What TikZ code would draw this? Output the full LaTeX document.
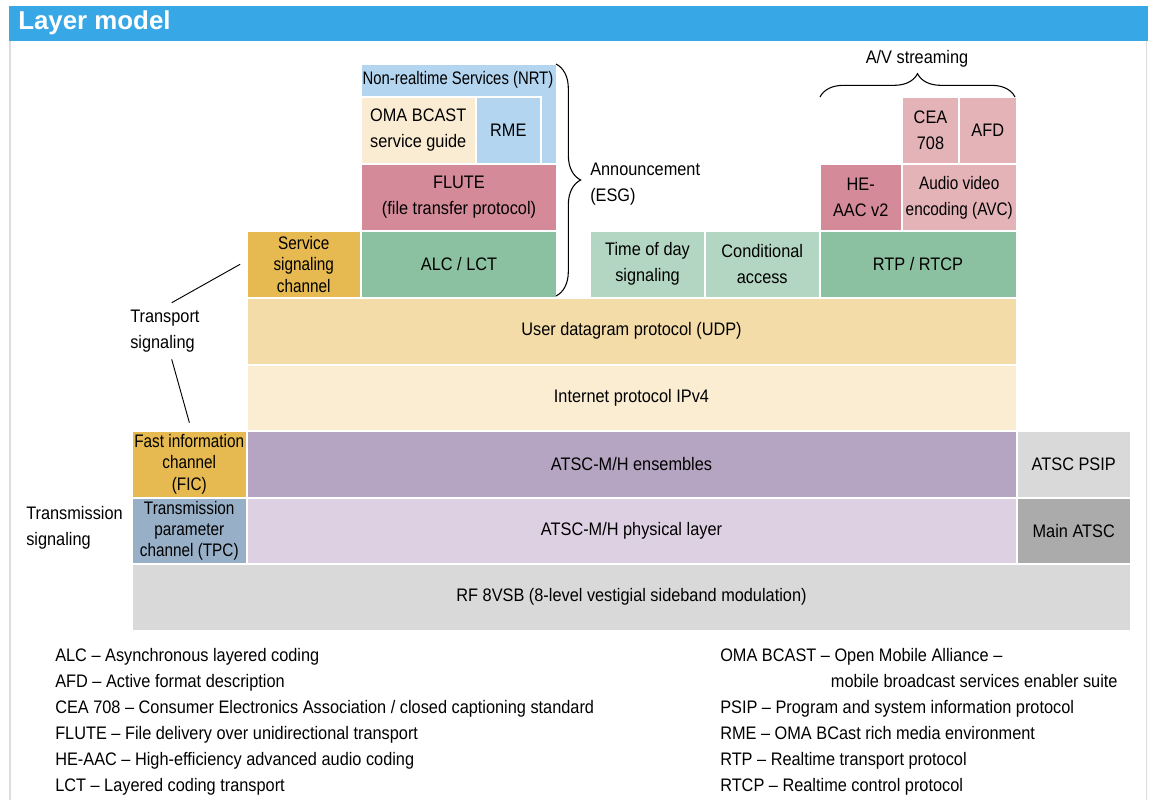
\documentclass[tikz,border=0pt]{standalone}
\usepackage{fontspec}
\setmainfont[FakeStretch=0.9]{Liberation Sans}
\newfontfamily\titlefont{Liberation Sans}
\newfontfamily\narrowfont[FakeStretch=0.845]{Liberation Sans}
\newfontfamily\narrowerfont[FakeStretch=0.82]{Liberation Sans}
\usetikzlibrary{decorations.pathreplacing}
\definecolor{titleblue}{RGB}{55,167,230}
\definecolor{nrtblue}{RGB}{179,213,240}
\definecolor{cream}{RGB}{250,236,210}
\definecolor{flutepink}{RGB}{212,138,152}
\definecolor{midgreen}{RGB}{139,193,160}
\definecolor{gold}{RGB}{230,186,80}
\definecolor{lightgreen}{RGB}{179,214,194}
\definecolor{lightpink}{RGB}{227,179,184}
\definecolor{udpcol}{RGB}{243,220,168}
\definecolor{ipcol}{RGB}{250,237,210}
\definecolor{ensemble}{RGB}{182,165,194}
\definecolor{lgray}{RGB}{217,217,217}
\definecolor{tpccol}{RGB}{152,176,199}
\definecolor{physcol}{RGB}{221,208,226}
\definecolor{dgray}{RGB}{171,171,171}
\definecolor{border}{RGB}{221,221,221}
\tikzset{
  layerbox/.style={draw=white, line width=1.5pt, inner sep=0pt, align=center,
    anchor=north west, font=\fontsize{13.6}{19.5}\selectfont},
  tight/.style={font=\narrowfont\fontsize{13.6}{16}\selectfont},
  narrow/.style={font=\narrowfont\fontsize{13.6}{19.5}\selectfont},
  label/.style={inner sep=0pt, font=\fontsize{13.6}{19.5}\selectfont},
  link/.style={line width=0.7pt, black},
  bracestyle/.style={line width=0.8pt, decorate},
}
\newcommand\layer[8][]{\node[layerbox, fill=#7, minimum width={(#5-#3)*0.75pt}, minimum height={(#6-#4)*0.75pt}, #1] (#2) at (#3,-#4) {#8};}
\begin{document}
\begin{tikzpicture}[x=0.75pt,y=0.75pt]
\useasboundingbox (0,0) rectangle (1152,-800);
% frame
\fill[titleblue] (9,-6) rectangle (1147.5,-40.5);
\node[anchor=west, inner sep=0pt, text=white, font=\titlefont\bfseries\fontsize{19.4}{21}\selectfont] (title) at (18,-23) {Layer model};
\draw[border, line width=1.2pt] (9.8,-40.5) -- (9.8,-800);
\draw[border, line width=1.2pt] (1146.6,-40.5) -- (1146.6,-800);
% bottom layers
\layer{rf}{131}{563}{1130}{629.5}{lgray}{RF 8VSB (8-level vestigial sideband modulation)}
\layer[tight]{tpc}{131}{496.5}{245.5}{563}{tpccol}{Transmission\\parameter\\channel (TPC)}
\layer{phys}{245.5}{496.5}{1015.5}{563}{physcol}{ATSC-M/H physical layer}
\layer{main}{1015.5}{496.5}{1130}{563}{dgray}{Main ATSC}
\layer[tight]{fic}{131}{430}{245.5}{496.5}{gold}{Fast information\\channel\\(FIC)}
\layer{ens}{245.5}{430}{1015.5}{496.5}{ensemble}{ATSC-M/H ensembles}
\layer{psip}{1015.5}{430}{1130}{496.5}{lgray}{ATSC PSIP}
\layer{ip}{245.5}{363.5}{1015.5}{430}{ipcol}{Internet protocol IPv4}
\layer{udp}{245.5}{296.5}{1015.5}{363.5}{udpcol}{User datagram protocol (UDP)}
% transport row
\layer[tight]{ssc}{245.5}{230}{360}{296.5}{gold}{Service\\signaling\\channel}
\layer{alc}{360}{230}{556}{296.5}{midgreen}{ALC / LCT}
\layer{tod}{589}{230}{704}{296.5}{lightgreen}{Time of day\\signaling}
\layer{ca}{704}{230}{818.5}{296.5}{lightgreen}{Conditional\\access}
\layer{rtp}{818.5}{230}{1015.5}{296.5}{midgreen}{RTP / RTCP}
% upper
\layer{flute}{360}{163}{556}{230}{flutepink}{FLUTE\\(file transfer protocol)}
\node[layerbox, fill=nrtblue, minimum width={196*0.75pt}, minimum height={100*0.75pt}] (nrt) at (360,-63) {};
\node[label, anchor=center, font=\narrowerfont\fontsize{13.6}{19.5}\selectfont] (nrtlbl) at (458,-79.5) {Non-realtime Services (NRT)};
\layer{oma}{360}{96}{474.5}{163}{cream}{OMA BCAST\\service guide}
\layer{rme}{474.5}{96}{540}{163}{nrtblue}{RME}
\layer{heaac}{818.5}{163}{901}{230}{flutepink}{HE-\\AAC v2}
\layer[narrow]{avc}{901}{163}{1015.5}{230}{lightpink}{Audio video\\encoding (AVC)}
\layer{cea}{901}{96}{958}{163}{lightpink}{CEA\\708}
\layer{afd}{958}{96}{1015.5}{163}{lightpink}{AFD}
% braces
\draw[bracestyle, decoration={brace, amplitude=18.5pt}] (556,-64) -- (556,-296);
\node[label, anchor=north west, align=left] (ann) at (590,-163) {Announcement\\(ESG)};
\draw[bracestyle, decoration={brace, amplitude=17.5pt}] (820,-97) -- (1015,-97);
\node[label] (avs) at (917,-59) {A/V streaming};
% side labels
\node[label, align=left, anchor=north west] (ts) at (130,-310) {Transport\\signaling};
\coordinate (t1) at (171.7,-302.7);
\coordinate (t2) at (171.7,-359.3);
\draw[link] (t1) -- ([xshift=-4pt]ssc.west);
\draw[link] (t2) -- ([xshift=0.1pt,yshift=5.5pt]fic.north);
\node[label, align=left, anchor=north west] (trs) at (26,-506) {Transmission\\signaling};
% legend
\node[label, align=left, anchor=north west] (legL) at (55,-648) {ALC -- Asynchronous layered coding\\
AFD -- Active format description\\
CEA 708 -- Consumer Electronics Association / closed captioning standard\\
FLUTE -- File delivery over unidirectional transport\\
HE-AAC -- High-efficiency advanced audio coding\\
LCT -- Layered coding transport};
\node[label, align=left, anchor=north west] (legR) at (720,-648) {OMA BCAST -- Open Mobile Alliance --\\
\hspace*{83pt}mobile broadcast services enabler suite\\
PSIP -- Program and system information protocol\\
RME -- OMA BCast rich media environment\\
RTP -- Realtime transport protocol\\
RTCP -- Realtime control protocol};
\end{tikzpicture}
\end{document}
